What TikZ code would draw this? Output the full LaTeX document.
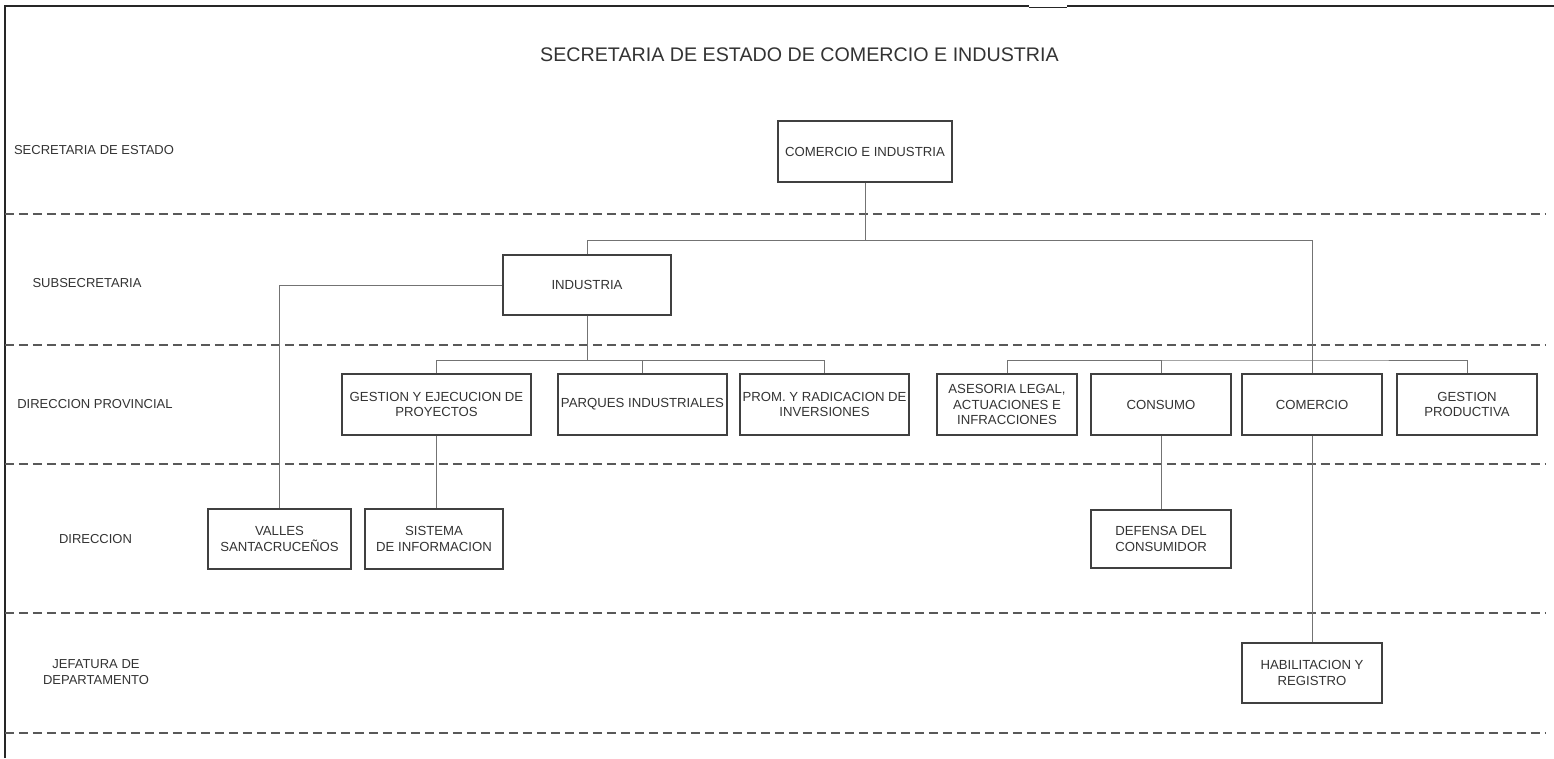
\documentclass[tikz,border=0pt]{standalone}
\usepackage{fontspec}
\setmainfont{Liberation Sans}
\usetikzlibrary{calc,positioning}
\tikzset{
    unit/.style={rectangle, draw=black!75, line width=0.7pt, minimum height=1.2cm, inner sep=1pt, align=center, text=black!80, font=\fontsize{7.5}{9}\selectfont},
    level/.style={align=center, text=black!80, font=\fontsize{7.4}{9}\selectfont},
    link/.style={draw=black!55, line width=0.5pt},
    sep/.style={draw=black!65, line width=0.8pt, dash pattern=on 0.18cm off 0.1cm},
}
\begin{document}
\begin{tikzpicture}[x=0.02cm, y=-0.02cm]
        \useasboundingbox (0,0) rectangle (1554,758);

        % Frame
        \draw[line width=1.1pt, black!85] (5,758) -- (5,6) -- (1029,6);
        \draw[line width=0.5pt, black!85] (1029,7) -- (1067,7);
        \draw[line width=1.1pt, black!85] (1067,6) -- (1554,6);

        % Title
        \node[font=\fontsize{11.2}{13}\selectfont, text=black!80] (title) at (799.5,54.5) {SECRETARIA DE ESTADO DE COMERCIO E INDUSTRIA};

        % Separators
        \foreach \y in {214,345,464,613,733}
            \draw[sep] (5,\y) -- (1545,\y);

        % Level labels
        \node[level] (lsec) at (94,150) {SECRETARIA DE ESTADO};
        \node[level] (lsub) at (87,283) {SUBSECRETARIA};
        \node[level] (ldp) at (95,404) {DIRECCION PROVINCIAL};
        \node[level] (ldir) at (95.5,539) {DIRECCION};
        \node[level] (ljef) at (96,672) {JEFATURA DE\\DEPARTAMENTO};

        % Secretaria and subsecretaria
        \node[unit, minimum width=3.48cm, minimum height=1.22cm] (top) at (865,151.5) {COMERCIO E INDUSTRIA};
        \node[unit, minimum width=3.36cm] (ind) at (587,285) {INDUSTRIA};

        % Direcciones provinciales
        \node[unit, minimum width=3.78cm, minimum height=1.22cm] (gest) at (436.5,404.5) {GESTION Y EJECUCION DE\\PROYECTOS};
        \node[unit, minimum width=3.38cm, minimum height=1.22cm] (parq) at (642.5,404.5) {PARQUES INDUSTRIALES};
        \node[unit, minimum width=3.38cm, minimum height=1.22cm] (prom) at (824.5,404.5) {PROM. Y RADICACION DE\\INVERSIONES};
        \node[unit, minimum width=2.8cm, minimum height=1.22cm] (ases) at (1007,404.5) {ASESORIA LEGAL,\\ACTUACIONES E\\INFRACCIONES};
        \node[unit, minimum width=2.8cm, minimum height=1.22cm] (cons) at (1161,404.5) {CONSUMO};
        \node[unit, minimum width=2.8cm, minimum height=1.22cm] (com) at (1312,404.5) {COMERCIO};
        \node[unit, minimum width=2.8cm, minimum height=1.22cm] (gprod) at (1467,404.5) {GESTION\\PRODUCTIVA};

        % Direcciones
        \node[unit, minimum width=2.86cm] (val) at (279.5,539) {VALLES\\SANTACRUCEÑOS};
        \node[unit, minimum width=2.76cm] (sis) at (434,539) {SISTEMA\\DE INFORMACION};
        \node[unit, minimum width=2.8cm, minimum height=1.16cm] (def) at (1161,539) {DEFENSA DEL\\CONSUMIDOR};

        % Jefatura
        \node[unit, minimum width=2.8cm] (hab) at (1312,673) {HABILITACION Y\\REGISTRO};

        % Bus points
        \coordinate (bus1) at (865,240);
        \coordinate (bus2) at (587,360);
        \coordinate (bus3) at (1312,360);

        % Links from the secretaria
        \draw[link] (top.south) -- (bus1);
        \draw[link] (ind.north) |- (bus1);
        \draw[link] (com.north) |- (bus1);

        % Links from industria
        \draw[link] (ind.south) -- (bus2);
        \draw[link] (gest.north) |- (bus2);
        \draw[link] (prom.north) |- (bus2);
        \draw[link] (parq.north) -- (parq.north |- bus2);
        \draw[link] (ind.west) -| (val.north);
        \draw[link] (gest.south) -- (gest.south |- sis.north);

        % Links of the comercio side
        \draw[link] (ases.north) |- (bus3) -| (gprod.north);
        \draw[link] (cons.north) -- (cons.north |- bus3);
        \draw[link] (cons.south) -- (def.north);
        \draw[link] (com.south) -- (hab.north);
    \end{tikzpicture}
\end{document}
